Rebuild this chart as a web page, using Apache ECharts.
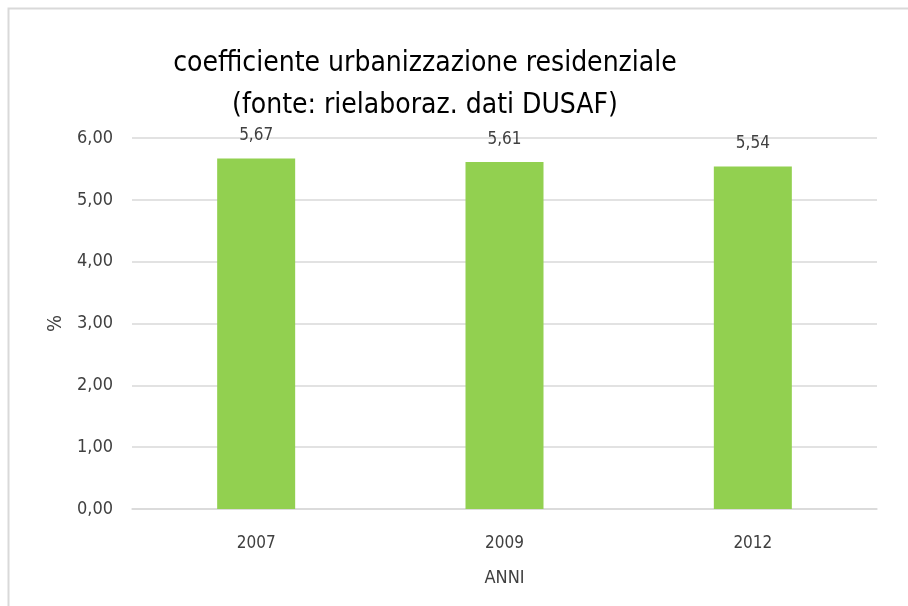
<!DOCTYPE html>
<html>
<head>
<meta charset="utf-8">
<script src="https://cdn.jsdelivr.net/npm/echarts@6/dist/echarts.min.js"></script>
<style>
	html, body { margin: 0; padding: 0; background: #fff; }
	#chart { width: 908px; height: 606px; }
</style>
</head>
<body>
<div id="chart"></div>
<script>
var anni = ['2007', '2009', '2012'];
var coefficiente = [5.67, 5.61, 5.54];
var yTicks = [0, 1, 2, 3, 4, 5, 6];

var fontName = '"Liberation Sans Narrow", "DejaVu Sans Condensed", Lato, sans-serif';

var virgola = function(v) {
	return v.toFixed(2).replace('.', ',');
};

var chart = echarts.init(document.getElementById('chart'));

var option = {
	backgroundColor: '#fff',
	animation: false,
	textStyle: { fontFamily: fontName },
	title: {
		text: 'coefficiente urbanizzazione residenziale\n(fonte: rielaboraz. dati DUSAF)',
		left: 420,
		top: 38,
		textAlign: 'center',
		textStyle: {
			fontFamily: fontName,
			fontSize: 28,
			fontWeight: 'normal',
			color: '#000',
			lineHeight: 42
		}
	},
	grid: {
		left: 132,
		right: 31,
		top: 138,
		bottom: 97
	},
	xAxis: {
		type: 'category',
		data: anni,
		name: 'ANNI',
		nameLocation: 'middle',
		nameGap: 60,
		nameTextStyle: { fontSize: 18, color: '#404040' },
		axisLine: { lineStyle: { color: '#d9d9d9', width: 1.5 } },
		axisTick: { show: false },
		axisLabel: { fontSize: 17, color: '#404040', margin: 26 }
	},
	yAxis: {
		type: 'value',
		min: yTicks[0],
		max: yTicks[yTicks.length - 1],
		interval: 1,
		name: '%',
		nameLocation: 'middle',
		nameGap: 66,
		nameRotate: 90,
		nameTextStyle: { fontSize: 20, color: '#404040' },
		axisLine: { show: false },
		axisTick: { show: false },
		splitLine: { lineStyle: { color: '#d9d9d9', width: 1.5 } },
		axisLabel: {
			fontSize: 18,
			color: '#404040',
			margin: 19,
			formatter: function(v) { return virgola(v); }
		}
	},
	series: [
		{
			type: 'bar',
			data: coefficiente,
			barWidth: 78,
			itemStyle: { color: '#92d050' },
			label: {
				show: true,
				position: 'top',
				distance: 14,
				fontSize: 17,
				color: '#404040',
				formatter: function(p) { return virgola(p.value); }
			}
		}
	],
	graphic: [
		{
			type: 'rect',
			shape: { x: 8.5, y: 8.5, width: 1000, height: 1000 },
			style: { fill: null, stroke: '#d9d9d9', lineWidth: 2 },
			silent: true
		}
	]
};

chart.setOption(option);
</script>
</body>
</html>
